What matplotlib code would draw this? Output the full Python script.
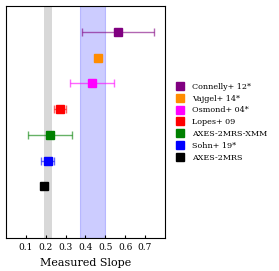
import matplotlib
matplotlib.use("Agg")
import matplotlib.pyplot as plt
from matplotlib.lines import Line2D

labels = ["Connelly+ 12*", "Vajgel+ 14*", "Osmond+ 04*", "Lopes+ 09",
          "AXES-2MRS-XMM", "Sohn+ 19*", "AXES-2MRS"]
slopes = [0.562, 0.463, 0.433, 0.272, 0.221, 0.213, 0.190]
err_lo = [0.179, 0.0, 0.111, 0.029, 0.109, 0.036, 0.0]
err_hi = [0.181, 0.0, 0.110, 0.030, 0.112, 0.030, 0.0]
colors = ["purple", "darkorange", "magenta", "red", "green", "blue", "black"]
ypos = [7, 6, 5, 4, 3, 2, 1]
grey_band = (0.19, 0.23)
blue_band = (0.373, 0.50)
xticks = [0.1, 0.2, 0.3, 0.4, 0.5, 0.6, 0.7]

plt.rcParams['font.family'] = ['DejaVu Serif']
fig = plt.figure(figsize=(2.79, 2.71), dpi=100)
ax = fig.add_axes([0.0215, 0.122, 0.5695, 0.856])

ax.axvspan(*grey_band, color='grey', alpha=0.3, lw=0)
ax.axvspan(*blue_band, facecolor='blue', alpha=0.2, edgecolor='blue', lw=0.8)

handles = []
for lab, x, lo, hi, c, y in zip(labels, slopes, err_lo, err_hi, colors, ypos):
    ax.errorbar([x], [y], xerr=[[lo], [hi]], fmt='none', ecolor=c,
                elinewidth=1, capsize=3, alpha=0.6, zorder=3)
    ax.plot([x], [y], marker='s', ls='', color=c, ms=6, mec=c, zorder=4)
    handles.append(Line2D([], [], marker='s', ls='', color=c, ms=6, label=lab))

ax.set_xlim(0, 0.8)
ax.set_ylim(-1, 8)
ax.set_yticks([])
ax.set_xticks(xticks)
ax.set_xticklabels([f"{t:.1f}" for t in xticks], fontsize=6.5)
ax.tick_params(axis='x', direction='in', length=2, pad=4)
ax.set_xlabel("Measured Slope", fontsize=8)

fig.legend(handles=handles, loc='center left', bbox_to_anchor=(0.617, 0.549),
           frameon=False, fontsize=5.8, handlelength=1, handletextpad=1.0,
           labelspacing=0.47, borderpad=0)

fig.savefig("out.png", dpi=100)
